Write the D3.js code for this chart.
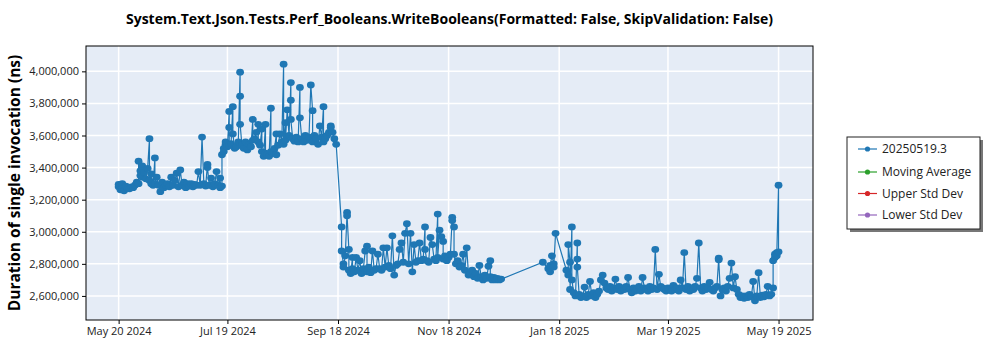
<!DOCTYPE html>
<html><head><meta charset="utf-8">
<script src="https://cdn.jsdelivr.net/npm/d3@7"></script>
<style>body{margin:0;background:#fff}svg{display:block}text{font-family:"Open Sans",sans-serif}</style>
</head><body><svg id="c" width="1000" height="350"></svg>
<script>
const chartTitle = "System.Text.Json.Tests.Perf_Booleans.WriteBooleans(Formatted: False, SkipValidation: False)";
const yLabel = "Duration of single invocation (ns)";
const legendNames = ["20250519.3", "Moving Average", "Upper Std Dev", "Lower Std Dev"];
const legendColors = ["#1f77b4", "#2ca02c", "#d62728", "#9467bd"];
const xTickDates = ["2024-05-20", "2024-07-19", "2024-09-18", "2024-11-18", "2025-01-18", "2025-03-19", "2025-05-19"];
const xTickLabels = ["May 20 2024", "Jul 19 2024", "Sep 18 2024", "Nov 18 2024", "Jan 18 2025", "Mar 19 2025", "May 19 2025"];
const yTickValues = [2600000, 2800000, 3000000, 3200000, 3400000, 3600000, 3800000, 4000000];
const xDomain = ["2024-05-02", "2025-06-07"];
const yDomain = [2450000, 4158000];

// [run date, duration in ns] for build 20250519.3 history
const observations = [
["2024-05-20",3280000],["2024-05-20",3295000],["2024-05-21",3262000],["2024-05-22",3300000],["2024-05-22",3270000],["2024-05-23",3255000],["2024-05-24",3285000],["2024-05-25",3272000],["2024-05-26",3268000],["2024-05-27",3280000],["2024-05-28",3275000],["2024-05-29",3290000],["2024-05-30",3310000],["2024-05-31",3300000],["2024-05-31",3440000],["2024-06-01",3380000],["2024-06-01",3350000],["2024-06-02",3410000],["2024-06-02",3340000],["2024-06-03",3370000],["2024-06-04",3330000],["2024-06-05",3395000],["2024-06-06",3580000],["2024-06-06",3320000],["2024-06-07",3360000],["2024-06-07",3300000],["2024-06-08",3290000],["2024-06-09",3460000],["2024-06-09",3300000],["2024-06-10",3340000],["2024-06-11",3290000],["2024-06-12",3250000],["2024-06-13",3310000],["2024-06-14",3275000],["2024-06-15",3290000],["2024-06-16",3300000],["2024-06-17",3280000],["2024-06-18",3340000],["2024-06-19",3290000],["2024-06-20",3320000],["2024-06-21",3365000],["2024-06-22",3280000],["2024-06-23",3385000],["2024-06-24",3290000],["2024-06-25",3310000],["2024-06-26",3275000],["2024-06-27",3300000],["2024-06-28",3285000],["2024-06-29",3300000],["2024-06-30",3280000],["2024-07-01",3295000],["2024-07-02",3290000],["2024-07-03",3375000],["2024-07-04",3290000],["2024-07-05",3590000],["2024-07-06",3300000],["2024-07-07",3285000],["2024-07-08",3420000],["2024-07-08",3400000],["2024-07-09",3290000],["2024-07-10",3335000],["2024-07-11",3280000],["2024-07-12",3300000],["2024-07-13",3375000],["2024-07-14",3290000],["2024-07-15",3335000],["2024-07-15",3275000],["2024-07-16",3285000],
["2024-07-16",3480000],["2024-07-17",3520000],["2024-07-17",3500000],["2024-07-18",3545000],["2024-07-18",3560000],["2024-07-19",3530000],["2024-07-20",3750000],["2024-07-20",3650000],["2024-07-20",3540000],["2024-07-21",3550000],["2024-07-22",3780000],["2024-07-22",3610000],["2024-07-23",3520000],["2024-07-24",3530000],["2024-07-25",3560000],["2024-07-26",3995000],["2024-07-26",3845000],["2024-07-26",3670000],["2024-07-27",3540000],["2024-07-28",3520000],["2024-07-29",3560000],["2024-07-30",3510000],["2024-07-31",3545000],["2024-08-01",3530000],["2024-08-02",3700000],["2024-08-02",3570000],["2024-08-03",3580000],["2024-08-04",3620000],["2024-08-05",3670000],["2024-08-05",3560000],["2024-08-06",3540000],["2024-08-07",3640000],["2024-08-07",3500000],["2024-08-08",3470000],["2024-08-09",3670000],["2024-08-09",3490000],["2024-08-10",3480000],["2024-08-11",3470000],["2024-08-12",3770000],["2024-08-12",3500000],["2024-08-13",3490000],["2024-08-14",3520000],["2024-08-15",3610000],["2024-08-15",3480000],["2024-08-16",3540000],["2024-08-17",3610000],["2024-08-18",3560000],["2024-08-19",4045000],["2024-08-19",3545000],["2024-08-20",3680000],["2024-08-20",3570000],["2024-08-21",3760000],["2024-08-22",3600000],["2024-08-23",3930000],["2024-08-23",3820000],["2024-08-23",3700000],["2024-08-24",3580000],["2024-08-25",3565000],["2024-08-26",3590000],["2024-08-27",3560000],["2024-08-28",3900000],["2024-08-28",3710000],["2024-08-29",3580000],["2024-08-30",3560000],["2024-08-31",3600000],["2024-09-01",3570000],["2024-09-02",3590000],["2024-09-03",3915000],["2024-09-04",3755000],["2024-09-04",3560000],["2024-09-05",3600000],["2024-09-06",3580000],["2024-09-07",3545000],["2024-09-08",3660000],["2024-09-09",3590000],["2024-09-10",3780000],["2024-09-10",3560000],["2024-09-11",3580000],["2024-09-12",3600000],["2024-09-13",3620000],["2024-09-14",3660000],["2024-09-14",3650000],["2024-09-15",3620000],["2024-09-16",3580000],["2024-09-17",3545000],
["2024-09-20",3030000],["2024-09-20",2880000],["2024-09-21",2800000],["2024-09-21",2780000],["2024-09-22",2850000],["2024-09-23",3120000],["2024-09-23",3100000],["2024-09-24",2890000],["2024-09-24",2760000],["2024-09-25",2740000],["2024-09-26",2840000],["2024-09-26",2770000],["2024-09-27",2750000],["2024-09-28",2840000],["2024-09-29",2760000],["2024-09-30",2820000],["2024-10-01",2740000],["2024-10-02",2770000],["2024-10-03",2880000],["2024-10-04",2910000],["2024-10-04",2750000],["2024-10-05",2780000],["2024-10-06",2745000],["2024-10-07",2880000],["2024-10-08",2760000],["2024-10-09",2770000],["2024-10-10",2860000],["2024-10-11",2770000],["2024-10-12",2760000],["2024-10-13",2900000],["2024-10-14",2780000],["2024-10-15",2900000],["2024-10-16",2790000],["2024-10-17",2770000],["2024-10-18",2975000],["2024-10-19",2730000],["2024-10-20",2790000],["2024-10-21",2800000],["2024-10-22",2890000],["2024-10-23",2930000],["2024-10-24",2810000],["2024-10-25",2990000],["2024-10-26",3050000],["2024-10-27",2800000],["2024-10-28",2990000],["2024-10-29",2750000],["2024-10-30",2920000],["2024-10-31",2810000],["2024-11-01",2820000],["2024-11-02",2930000],["2024-11-03",2820000],["2024-11-04",2830000],["2024-11-05",3030000],["2024-11-05",2890000],["2024-11-06",2820000],["2024-11-07",2810000],["2024-11-08",2965000],["2024-11-09",2920000],["2024-11-10",2830000],["2024-11-11",2820000],["2024-11-12",3110000],["2024-11-12",2840000],["2024-11-13",3010000],["2024-11-14",2970000],["2024-11-15",2940000],["2024-11-15",2830000],["2024-11-16",2850000],["2024-11-17",2820000],["2024-11-18",2840000],["2024-11-19",2860000],["2024-11-20",3090000],["2024-11-20",3070000],["2024-11-21",3030000],["2024-11-21",2860000],["2024-11-22",2800000],["2024-11-23",2820000],["2024-11-24",2780000],["2024-11-25",2790000],["2024-11-26",2860000],["2024-11-27",2760000],["2024-11-28",2900000],["2024-11-29",2730000],["2024-11-30",2740000],["2024-12-01",2760000],["2024-12-02",2720000],["2024-12-03",2740000],["2024-12-04",2710000],["2024-12-05",2790000],["2024-12-06",2720000],["2024-12-07",2700000],["2024-12-08",2730000],["2024-12-09",2710000],["2024-12-10",2785000],["2024-12-11",2820000],["2024-12-11",2720000],["2024-12-12",2700000],["2024-12-13",2715000],["2024-12-14",2700000],["2024-12-15",2710000],["2024-12-16",2700000],["2024-12-17",2705000],
["2025-01-09",2810000],["2025-01-12",2770000],["2025-01-13",2750000],["2025-01-13",2790000],["2025-01-14",2850000],["2025-01-15",2800000],["2025-01-15",2780000],["2025-01-16",2990000],["2025-01-22",2760000],["2025-01-23",2730000],["2025-01-23",2920000],["2025-01-24",2810000],["2025-01-24",2640000],["2025-01-25",3030000],["2025-01-25",2700000],["2025-01-26",2620000],["2025-01-27",2600000],["2025-01-28",2930000],["2025-01-28",2830000],["2025-01-28",2780000],["2025-01-29",2610000],["2025-01-30",2590000],["2025-01-31",2600000],["2025-02-01",2655000],["2025-02-02",2590000],["2025-02-03",2610000],["2025-02-04",2690000],["2025-02-05",2600000],["2025-02-06",2620000],["2025-02-07",2590000],["2025-02-08",2610000],["2025-02-09",2630000],["2025-02-10",2700000],["2025-02-11",2730000],["2025-02-12",2680000],["2025-02-13",2650000],["2025-02-14",2640000],["2025-02-15",2660000],["2025-02-16",2630000],["2025-02-17",2650000],["2025-02-18",2705000],["2025-02-19",2640000],["2025-02-20",2660000],["2025-02-21",2630000],["2025-02-22",2650000],["2025-02-23",2640000],["2025-02-24",2660000],["2025-02-25",2715000],["2025-02-26",2640000],["2025-02-27",2620000],["2025-02-28",2650000],["2025-03-01",2630000],["2025-03-02",2640000],["2025-03-03",2660000],["2025-03-04",2630000],["2025-03-05",2715000],["2025-03-06",2650000],["2025-03-07",2640000],["2025-03-08",2630000],["2025-03-09",2660000],["2025-03-10",2640000],["2025-03-11",2650000],["2025-03-12",2890000],["2025-03-13",2640000],["2025-03-14",2735000],["2025-03-15",2660000],["2025-03-16",2650000],["2025-03-17",2640000],["2025-03-18",2630000],["2025-03-19",2650000],["2025-03-20",2640000],["2025-03-21",2630000],["2025-03-22",2665000],["2025-03-23",2640000],["2025-03-24",2650000],["2025-03-25",2630000],["2025-03-26",2700000],["2025-03-27",2650000],["2025-03-28",2870000],["2025-03-29",2640000],["2025-03-30",2660000],["2025-03-31",2630000],["2025-04-01",2650000],["2025-04-02",2640000],["2025-04-03",2660000],["2025-04-04",2710000],["2025-04-05",2930000],["2025-04-06",2650000],["2025-04-07",2630000],["2025-04-08",2660000],["2025-04-09",2640000],["2025-04-10",2650000],["2025-04-11",2685000],["2025-04-12",2640000],["2025-04-13",2630000],["2025-04-14",2650000],["2025-04-15",2660000],["2025-04-16",2835000],["2025-04-16",2825000],["2025-04-17",2600000],["2025-04-18",2640000],["2025-04-19",2650000],["2025-04-20",2630000],["2025-04-21",2660000],["2025-04-22",2710000],["2025-04-23",2805000],["2025-04-24",2650000],["2025-04-25",2720000],["2025-04-26",2640000],["2025-04-27",2610000],["2025-04-28",2590000],["2025-04-29",2600000],["2025-04-30",2585000],["2025-05-01",2600000],["2025-05-02",2590000],["2025-05-03",2610000],["2025-05-04",2595000],["2025-05-05",2690000],["2025-05-06",2570000],["2025-05-07",2600000],["2025-05-08",2745000],["2025-05-09",2590000],["2025-05-10",2605000],["2025-05-11",2595000],["2025-05-12",2610000],["2025-05-13",2660000],["2025-05-14",2600000],["2025-05-15",2610000],["2025-05-16",2650000],["2025-05-16",2820000],["2025-05-17",2860000],["2025-05-17",2840000],["2025-05-18",2870000],["2025-05-18",2850000],["2025-05-19",3290000],["2025-05-19",2875000]
];

const svg = d3.select("#c");
const m = {l: 86, r: 813, t: 46, b: 320};
const parse = d3.utcParse("%Y-%m-%d");
const x = d3.scaleUtc().domain(xDomain.map(parse)).range([m.l, m.r]);
const y = d3.scaleLinear().domain(yDomain).range([m.b, m.t]);
const blue = legendColors[0];

// plot background
svg.append("rect").attr("x", m.l).attr("y", m.t).attr("width", m.r - m.l).attr("height", m.b - m.t).attr("fill", "#e5ecf6");

// grid
const grid = svg.append("g");
grid.selectAll(".gx").data(xTickDates.map(parse)).join("line")
  .attr("x1", d => x(d)).attr("x2", d => x(d)).attr("y1", m.t).attr("y2", m.b)
  .attr("stroke", "#fff").attr("stroke-width", 1.5);
grid.selectAll(".gy").data(yTickValues).join("line")
  .attr("y1", d => y(d)).attr("y2", d => y(d)).attr("x1", m.l).attr("x2", m.r)
  .attr("stroke", "#fff").attr("stroke-width", 1.5);

// clip
svg.append("clipPath").attr("id", "clip").append("rect")
  .attr("x", m.l).attr("y", m.t).attr("width", m.r - m.l).attr("height", m.b - m.t);

const pts = observations.map(d => ({date: parse(d[0]), value: d[1]}));
const plot = svg.append("g").attr("clip-path", "url(#clip)");
plot.append("path").datum(pts)
  .attr("d", d3.line().x(d => x(d.date)).y(d => y(d.value)))
  .attr("fill", "none").attr("stroke", blue).attr("stroke-width", 1.2);
plot.selectAll("ellipse").data(pts).join("ellipse")
  .attr("cx", d => x(d.date)).attr("cy", d => y(d.value)).attr("rx", 3.9).attr("ry", 3.4)
  .attr("fill", blue);

// frame
svg.append("rect").attr("x", m.l).attr("y", m.t).attr("width", m.r - m.l).attr("height", m.b - m.t)
  .attr("fill", "none").attr("stroke", "#000").attr("stroke-width", 1);

// axes
const xAxis = d3.axisBottom(x).tickValues(xTickDates.map(parse))
  .tickFormat((d, i) => xTickLabels[i]).tickSize(4).tickPadding(3);
const gx = svg.append("g").attr("transform", `translate(0,${m.b})`).call(xAxis);
gx.select(".domain").remove();
gx.selectAll("text").attr("font-size", 11).attr("fill", "#222").style("font-family", "'Open Sans', sans-serif");

const yAxis = d3.axisLeft(y).tickValues(yTickValues).tickFormat(d3.format(",")).tickSize(4).tickPadding(3);
const gy = svg.append("g").attr("transform", `translate(${m.l},0)`).call(yAxis);
gy.select(".domain").remove();
gy.selectAll("text").attr("font-size", 11).attr("fill", "#222").style("font-family", "'Open Sans', sans-serif");

// title
svg.append("text").attr("x", (m.l + m.r) / 2).attr("y", 24).attr("text-anchor", "middle")
  .attr("font-size", 14).attr("font-weight", "bold").attr("fill", "#000").text(chartTitle);

// y label
svg.append("text").attr("transform", `translate(20,${(m.t + m.b) / 2}) rotate(-90)`)
  .attr("text-anchor", "middle").attr("font-size", 15.5).attr("font-weight", "bold").attr("fill", "#000").text(yLabel);

// legend
const lg = svg.append("g").attr("transform", "translate(847,137)");
lg.append("rect").attr("x", 3).attr("y", 3).attr("width", 133).attr("height", 92).attr("fill", "#777");
lg.append("rect").attr("x", 0).attr("y", 0).attr("width", 133).attr("height", 92).attr("fill", "#fff").attr("stroke", "#222");
const rowsY = [12, 35, 56.5, 78];
legendNames.forEach((n, i) => {
  const g = lg.append("g").attr("transform", `translate(0,${rowsY[i]})`);
  g.append("line").attr("x1", 11).attr("x2", 30).attr("stroke", legendColors[i]).attr("stroke-width", 1.2);
  g.append("circle").attr("cx", 20.5).attr("r", 2.6).attr("fill", legendColors[i]);
  g.append("text").attr("x", 35).attr("dy", "0.35em").attr("font-size", 12).attr("fill", "#222").text(n);
});
</script></body></html>
